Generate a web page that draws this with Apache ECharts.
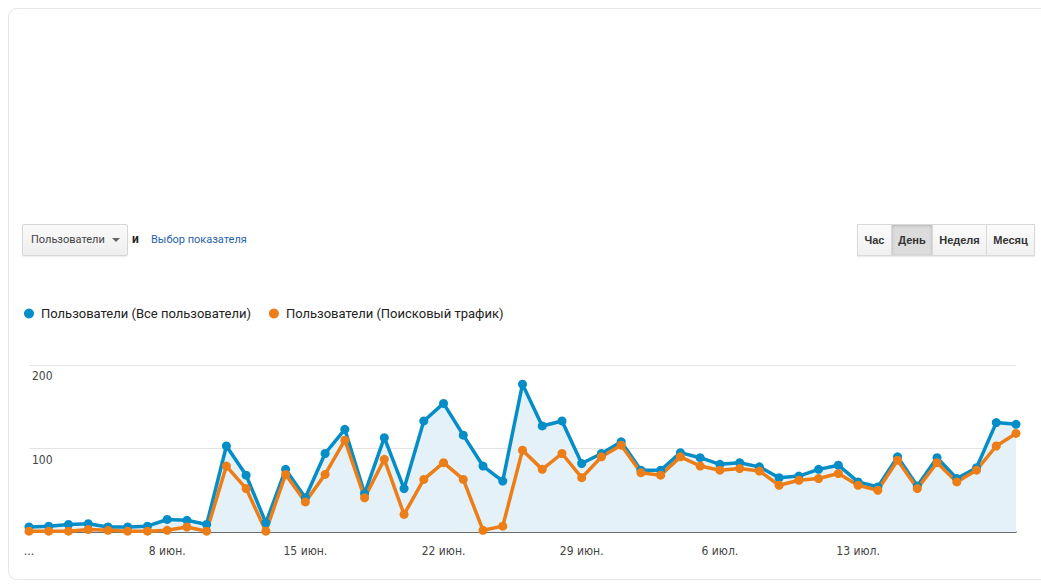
<!DOCTYPE html>
<html>
<head>
<meta charset="utf-8">
<script src="https://cdn.jsdelivr.net/npm/echarts@6/dist/echarts.min.js"></script>
<style>
  html, body { margin:0; padding:0; width:1041px; height:584px; overflow:hidden; background:#fff; }
  #card { position:absolute; left:8px; top:8px; width:1060px; height:572px; border:1px solid #e6e6e6; border-radius:9px; box-sizing:border-box; }
  #chart { position:absolute; left:0; top:0; width:1041px; height:584px; }
  .dd { position:absolute; left:22px; top:224px; width:106px; height:32px; box-sizing:border-box; border:1px solid #d6d6d6; border-radius:2px;
        background:linear-gradient(#fafafa,#eeeeee); box-shadow:0 1px 1px rgba(0,0,0,0.08);
        font:11px Roboto, "Liberation Sans", sans-serif; color:#444; line-height:30px; padding-left:8px; }
  .dd .caret { position:absolute; right:7px; top:13px; width:0; height:0; border-left:4px solid transparent; border-right:4px solid transparent; border-top:4px solid #666; }
  .and { position:absolute; left:132px; top:232px; font:bold 12px Roboto, "Liberation Sans", sans-serif; color:#222; }
  .link { position:absolute; left:151px; top:233px; font:11px Roboto, "Liberation Sans", sans-serif; color:#1f63ad; }
  .grp { position:absolute; left:857px; top:224px; height:32px; display:flex; box-shadow:0 1px 1px rgba(0,0,0,0.08); }
  .grp div { box-sizing:border-box; height:32px; border:1px solid #d9d9d9; margin-left:-1px; background:linear-gradient(#fbfbfb,#f0f0f0);
             font:bold 11px "Liberation Sans", Arial, sans-serif; color:#333; line-height:30px; text-align:center; }
  .grp div.sel { background:#dcdcdc; box-shadow:inset 0 1px 3px rgba(0,0,0,0.18); }
</style>
</head>
<body>
<div id="card"></div>
<div id="chart"></div>
<div class="dd">Пользователи<span class="caret"></span></div>
<div class="and">и</div>
<div class="link">Выбор показателя</div>
<div class="grp">
  <div style="width:35px;margin-left:0">Час</div>
  <div class="sel" style="width:42px">День</div>
  <div style="width:55px">Неделя</div>
  <div style="width:49px">Месяц</div>
</div>
<script>
const categories = [
  "1 июн.","2 июн.","3 июн.","4 июн.","5 июн.","6 июн.","7 июн.","8 июн.","9 июн.","10 июн.",
  "11 июн.","12 июн.","13 июн.","14 июн.","15 июн.","16 июн.","17 июн.","18 июн.","19 июн.","20 июн.",
  "21 июн.","22 июн.","23 июн.","24 июн.","25 июн.","26 июн.","27 июн.","28 июн.","29 июн.","30 июн.",
  "1 июл.","2 июл.","3 июл.","4 июл.","5 июл.","6 июл.","7 июл.","8 июл.","9 июл.","10 июл.",
  "11 июл.","12 июл.","13 июл.","14 июл.","15 июл.","16 июл.","17 июл.","18 июл.","19 июл.","20 июл.","21 июл."
];
const allUsers = [6,7,9,10,6,6,7,15,14,9,103,68,11,75,41,94,123,46,113,52,133,154,116,79,61,177,127,133,82,94,108,74,74,95,89,81,83,78,65,67,75,80,60,54,90,55,89,64,77,131,129];
const searchUsers = [1,1,1,3,2,1,1,2,6,1,79,52,1,69,36,69,110,41,87,21,63,83,63,2,7,98,75,94,65,90,104,71,68,90,79,74,76,73,56,62,64,70,56,50,86,52,83,60,74,103,118];
const tickLabels = {0:"...", 7:"8 июн.", 14:"15 июн.", 21:"22 июн.", 28:"29 июн.", 35:"6 июл.", 42:"13 июл."};
const seriesNames = ["Пользователи (Все пользователи)", "Пользователи (Поисковый трафик)"];
const yTicks = [0, 100, 200];

const chart = echarts.init(document.getElementById('chart'), null, {renderer:'svg'});
chart.setOption({
  animation:false,
  color:['#058dc7','#ed7e17'],
  legend:{
    left:19, top:302, icon:'circle', itemWidth:14, itemHeight:10, itemGap:18,
    textStyle:{fontFamily:'Roboto', fontSize:13, color:'#222'},
    data:seriesNames
  },
  grid:{left:29, right:25, top:365, bottom:52},
  xAxis:{
    type:'category', data:categories, boundaryGap:false,
    axisLine:{lineStyle:{color:'#444', width:1.5}},
    axisTick:{show:false},
    axisLabel:{
      interval:(i)=> tickLabels[i] !== undefined,
      formatter:(v,i)=> tickLabels[i] || '',
      margin:13, fontFamily:'"Liberation Sans Narrow", "DejaVu Sans Condensed", Roboto', fontSize:12, color:'#444'
    }
  },
  yAxis:{
    type:'value', min:yTicks[0], max:yTicks[2], interval:100,
    axisLine:{show:false}, axisTick:{show:false},
    splitLine:{lineStyle:{color:'#e4e4e4', width:1}},
    axisLabel:{
      inside:true, margin:3, verticalAlign:'top', padding:[5,0,0,0],
      formatter:(v)=> v===0 ? '' : String(v),
      fontFamily:'"Liberation Sans Narrow", "DejaVu Sans Condensed", Roboto', fontSize:12, color:'#444'
    }
  },
  series:[
    {name:seriesNames[0], type:'line', data:allUsers, symbol:'circle', symbolSize:9, showAllSymbol:true,
     lineStyle:{width:3.5}, areaStyle:{color:'#e4f1f8', opacity:1}},
    {name:seriesNames[1], type:'line', data:searchUsers, symbol:'circle', symbolSize:9, showAllSymbol:true,
     lineStyle:{width:3.5}}
  ]
});
</script>
</body>
</html>
